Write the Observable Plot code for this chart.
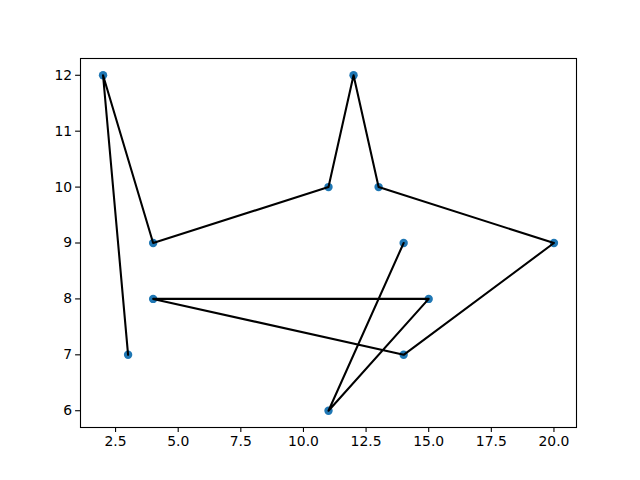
<!DOCTYPE html>
<html>
<head>
<meta charset="utf-8">
<script src="https://cdn.jsdelivr.net/npm/d3@7"></script>
<script src="https://cdn.jsdelivr.net/npm/@observablehq/plot@0.6"></script>
<style>
body { margin: 0; background: white; }
svg { font-family: "DejaVu Sans", sans-serif; }
</style>
</head>
<body>
<div id="chart"></div>
<script>
const xs = [3, 2, 4, 11, 12, 13, 20, 14, 4, 15, 11, 14];
const ys = [7, 12, 9, 10, 12, 10, 9, 7, 8, 8, 6, 9];
const xTicks = [2.5, 5.0, 7.5, 10.0, 12.5, 15.0, 17.5, 20.0];
const yTicks = [6, 7, 8, 9, 10, 11, 12];

const data = xs.map((x, i) => ({x, y: ys[i], i}));

const chart = Plot.plot({
  width: 640,
  height: 480,
  marginLeft: 80,
  marginRight: 64,
  marginTop: 58,
  marginBottom: 53,
  style: {fontFamily: "DejaVu Sans, sans-serif", fontSize: "13.9px", background: "white", color: "black"},
  x: {domain: [1.1, 20.9], label: null},
  y: {domain: [5.7, 12.3], label: null},
  marks: [
    Plot.dot(data, {x: "x", y: "y", r: 4.2, fill: "#1f77b4", stroke: "none"}),
    Plot.line(data, {x: "x", y: "y", stroke: "black", strokeWidth: 2.08, sort: null}),
    Plot.axisX({ticks: xTicks, tickFormat: d3.format(".1f"), tickSize: 4.9, tickPadding: 3.5, label: null, fontSize: 13.9, strokeWidth: 1.1}),
    Plot.axisY({ticks: yTicks, tickFormat: d3.format("d"), tickSize: 4.9, tickPadding: 3.5, label: null, fontSize: 13.9, strokeWidth: 1.1}),
    Plot.frame({stroke: "black", strokeWidth: 1.1})
  ]
});
document.getElementById("chart").appendChild(chart);
</script>
</body>
</html>
